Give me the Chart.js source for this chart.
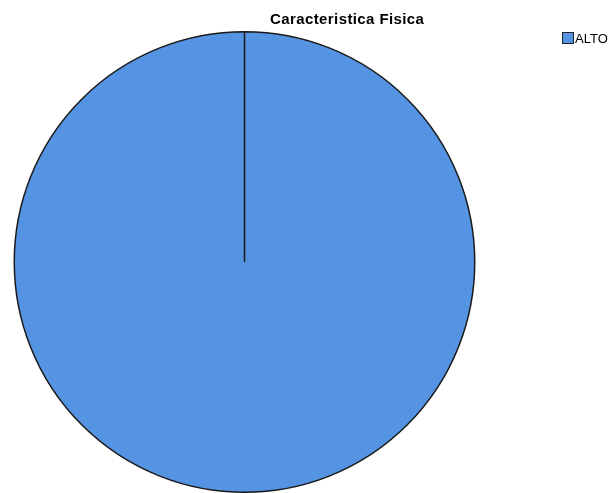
<!DOCTYPE html>
<html>
<head>
<meta charset="utf-8">
<script src="https://cdn.jsdelivr.net/npm/chart.js@4"></script>
<style>
html,body{margin:0;padding:0;background:#fff;overflow:hidden;}
canvas{display:block;}
</style>
</head>
<body>
<canvas id="c" width="612" height="493"></canvas>
<script>
const chartTitle = "Caracteristica Fisica";
const categories = ["ALTO"];
const values = [100];
const sliceColors = ["#5594E3"];

const overlayText = {
  id: 'overlayText',
  afterDraw(chart) {
    const ctx = chart.ctx;
    ctx.save();
    ctx.fillStyle = '#000';
    ctx.font = 'bold 15px "Liberation Sans", Arial, sans-serif';
    ctx.letterSpacing = '0.4px';
    ctx.textAlign = 'left';
    ctx.textBaseline = 'alphabetic';
    ctx.fillText(chartTitle, 270, 24);
    // legend
    const ds = chart.data.datasets[0];
    chart.data.labels.forEach((lab, i) => {
      const y = 32 + i * 16;
      ctx.fillStyle = ds.backgroundColor[i];
      ctx.fillRect(562, y, 11, 11);
      ctx.strokeStyle = '#222';
      ctx.lineWidth = 1;
      ctx.strokeRect(562.5, y + 0.5, 11, 11);
      ctx.fillStyle = '#000';
      ctx.font = '13px "Liberation Sans", Arial, sans-serif';
      ctx.letterSpacing = '0px';
      ctx.textAlign = 'left';
      ctx.fillText(lab, 575, y + 11);
    });
    ctx.restore();
  }
};

new Chart(document.getElementById('c'), {
  type: 'pie',
  data: {
    labels: categories,
    datasets: [{
      data: values,
      backgroundColor: sliceColors,
      borderColor: '#1a1a1a',
      borderWidth: 1.5
    }]
  },
  options: {
    responsive: false,
    animation: false,
    layout: { padding: { left: 13, top: 31, right: 136, bottom: 0 } },
    plugins: {
      legend: { display: false },
      title: { display: false },
      tooltip: { enabled: false }
    }
  },
  plugins: [overlayText]
});
</script>
</body>
</html>
